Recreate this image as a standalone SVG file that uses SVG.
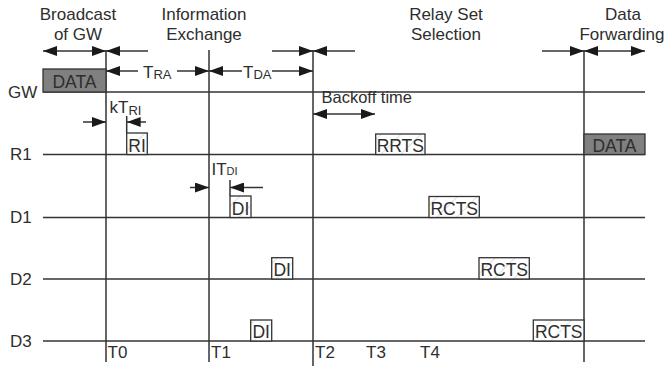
<svg xmlns="http://www.w3.org/2000/svg" width="666" height="371" viewBox="0 0 666 371">
<style>
text{font-family:"Liberation Sans",Arial,sans-serif;fill:#2e2e2e}
.h{font-size:17px;text-anchor:middle}
.l{font-size:17px}
.bt{font-size:17.5px;text-anchor:middle}
.sub{font-size:13px}
.ln{stroke:#333;stroke-width:1.5;fill:none}
.ar{stroke:#333;stroke-width:1.5;fill:none;marker-end:url(#ah)}
.ar2{stroke:#333;stroke-width:1.5;fill:none;marker-end:url(#ah);marker-start:url(#ah)}
.box{fill:url(#hatch);stroke:#333;stroke-width:1.3}
.dbox{fill:#808080;stroke:#333;stroke-width:1.3}
</style>
<defs>
<marker id="ah" viewBox="0 0 14 10" refX="14" refY="5" markerWidth="14" markerHeight="10" markerUnits="userSpaceOnUse" orient="auto-start-reverse">
<path d="M0,0 L14,5 L0,10 z" fill="#1a1a1a"/>
</marker>
<pattern id="hatch" patternUnits="userSpaceOnUse" width="14" height="14" patternTransform="rotate(45)">
<rect width="14" height="14" fill="#fff"/>
<line x1="0" y1="0" x2="0" y2="14" stroke="#b8b8b8" stroke-width="0.9"/>
</pattern>
</defs>
<rect width="666" height="371" fill="#fff"/>

<g id="headings">
<text class="h" x="78" y="20">Broadcast</text>
<text class="h" x="78" y="40">of GW</text>
<text class="h" x="204" y="20">Information</text>
<text class="h" x="204" y="40">Exchange</text>
<text class="h" x="446" y="20">Relay Set</text>
<text class="h" x="446" y="40">Selection</text>
<text class="h" x="623" y="20">Data</text>
<text class="h" x="622" y="40">Forwarding</text>
</g>

<g id="lanes">
<line class="ln" x1="43" y1="92" x2="645" y2="92"/>
<line class="ln" x1="43" y1="154.5" x2="645" y2="154.5"/>
<line class="ln" x1="43" y1="217.5" x2="645" y2="217.5"/>
<line class="ln" x1="43" y1="279" x2="645" y2="279"/>
<line class="ln" x1="43" y1="341" x2="645" y2="341"/>
<text class="l" x="8" y="98">GW</text>
<text class="l" x="10" y="159.5">R1</text>
<text class="l" x="10" y="222.5">D1</text>
<text class="l" x="10" y="284.5">D2</text>
<text class="l" x="10" y="347">D3</text>
</g>

<g id="times">
<line class="ln" x1="106" y1="50" x2="106" y2="362"/>
<line class="ln" x1="209" y1="50" x2="209" y2="362"/>
<line class="ln" x1="313" y1="50" x2="313" y2="366"/>
<line class="ln" x1="584" y1="50" x2="584" y2="362"/>
<text class="l" x="107.5" y="357.5">T0</text>
<text class="l" x="211" y="357.5">T1</text>
<text class="l" x="315" y="357.5">T2</text>
<text class="l" x="366" y="357.5">T3</text>
<text class="l" x="420" y="357.5">T4</text>
</g>

<g id="gw-data"><rect class="dbox" x="43" y="69" width="63" height="23"/><text class="bt" x="74.5" y="88">DATA</text></g>
<g id="r1-ri"><rect class="box" x="126.7" y="133" width="20.6" height="21.5"/><text class="bt" x="137" y="151.5">RI</text></g>
<g id="r1-rrts"><rect class="box" x="375.7" y="134" width="49.3" height="20.5"/><text class="bt" x="400.3" y="151.5">RRTS</text></g>
<g id="r1-data"><rect class="dbox" x="584" y="134" width="61" height="20.5"/><text class="bt" x="614.5" y="151.5">DATA</text></g>
<g id="d1-di"><rect class="box" x="230" y="196" width="21" height="21.5"/><text class="bt" x="240.5" y="214.5">DI</text></g>
<g id="d1-rcts"><rect class="box" x="429" y="196.5" width="50.3" height="21"/><text class="bt" x="454.2" y="214.5">RCTS</text></g>
<g id="d2-di"><rect class="box" x="271.7" y="257.7" width="21" height="21.3"/><text class="bt" x="282.2" y="276">DI</text></g>
<g id="d2-rcts"><rect class="box" x="479" y="257.7" width="50.3" height="21.3"/><text class="bt" x="504.2" y="276">RCTS</text></g>
<g id="d3-di"><rect class="box" x="250.7" y="320" width="21" height="21"/><text class="bt" x="261.2" y="338">DI</text></g>
<g id="d3-rcts"><rect class="box" x="533.3" y="320" width="50.7" height="21"/><text class="bt" x="558.7" y="338">RCTS</text></g>

<g id="connectors">
<line class="ar2" x1="43" y1="51" x2="106" y2="51"/>
<line class="ar" x1="148" y1="51" x2="106" y2="51"/>
<line class="ar" x1="272" y1="51" x2="313" y2="51"/>
<line class="ar" x1="355" y1="51" x2="313" y2="51"/>
<line class="ar" x1="542" y1="51" x2="584" y2="51"/>
<line class="ar2" x1="584" y1="51" x2="645" y2="51"/>
<line class="ar" x1="138" y1="71" x2="106" y2="71"/>
<line class="ar" x1="177" y1="71" x2="209" y2="71"/>
<line class="ar" x1="242" y1="71" x2="209" y2="71"/>
<line class="ar" x1="272" y1="71" x2="313" y2="71"/>
<line class="ar" x1="83" y1="122" x2="106" y2="122"/>
<line class="ar" x1="146" y1="122" x2="126.7" y2="122"/>
<line class="ln" x1="126.7" y1="116" x2="126.7" y2="133"/>
<line class="ar" x1="190" y1="187.5" x2="209" y2="187.5"/>
<line class="ar" x1="263" y1="187.5" x2="230" y2="187.5"/>
<line class="ln" x1="230" y1="180" x2="230" y2="196"/>
<line class="ar2" x1="313" y1="114" x2="375" y2="114"/>
</g>

<g id="labels">
<text class="l" x="143" y="77.5">T<tspan class="sub" dy="1.5">RA</tspan></text>
<text class="l" x="243" y="77.5">T<tspan class="sub" dy="1.5">DA</tspan></text>
<text class="l" x="109.5" y="112.5">kT<tspan class="sub" dy="2.5">RI</tspan></text>
<text class="l" x="211.5" y="175">IT<tspan style="font-size:11px">DI</tspan></text>
<text class="l" x="321.5" y="103" style="font-size:16.5px">Backoff time</text>
</g>
</svg>
